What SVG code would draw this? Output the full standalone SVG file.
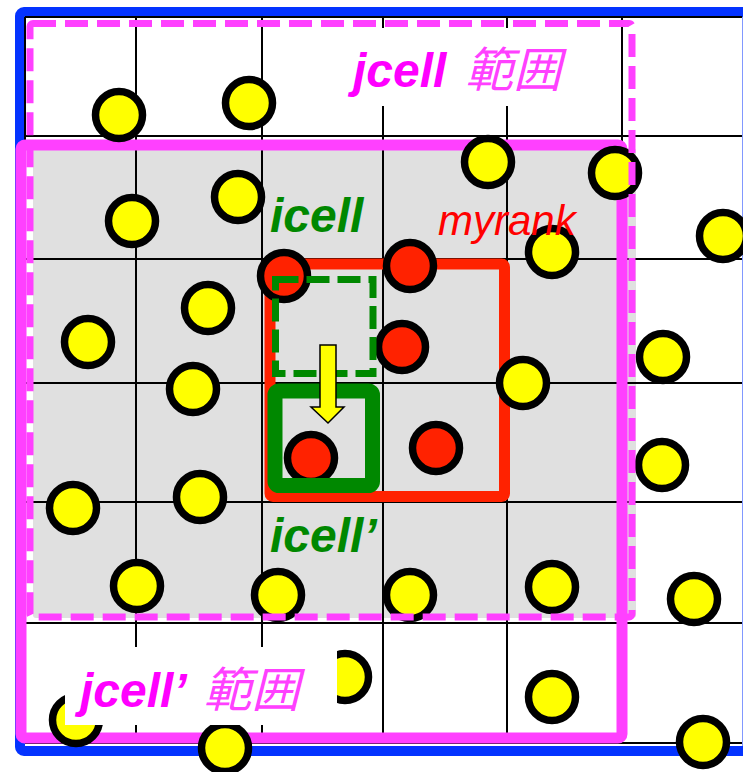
<svg xmlns="http://www.w3.org/2000/svg" width="743" height="772" viewBox="0 0 743 772">
<style>
.grid{stroke:#000;stroke-width:2;fill:none}
.cy{fill:#ffff00;stroke:#000;stroke-width:7.5}
.cr{fill:#ff2200;stroke:#000;stroke-width:7.5}
.lat{font-family:"Liberation Sans",Arial,sans-serif;font-weight:bold;font-style:italic}
.kj{font-family:"Noto Sans CJK JP","Noto Sans CJK SC",sans-serif;font-weight:normal;font-style:italic;fill:#ff40ff}
</style>
<rect width="743" height="772" fill="#fff"/>
<g id="domain">
<rect x="20" y="12" width="727.5" height="739" rx="4" fill="none" stroke="#0433ff" stroke-width="10"/>
</g>
<rect id="shade" x="33" y="148" width="603" height="470" rx="3" fill="#e0e0e0"/>
<g id="grid" class="grid">
<path d="M25,17H742M25,136H742M25,259H742M25,383H742M25,502H742M25,623H742M25,743H742"/>
<path d="M25,17V743M136,17V743M262,17V743M383,17V743M507,17V743M622,17V743"/>
</g>
<g id="jcellp-range"><rect x="21" y="145" width="601" height="593" rx="4" fill="none" stroke="#ff40ff" stroke-width="11"/></g>
<g id="myrank"><rect x="270" y="264" width="234.5" height="232.5" rx="3" fill="none" stroke="#ff2200" stroke-width="11"/></g>
<g id="particles-red">
<circle class="cr" cx="284" cy="276" r="23.5"/>
<circle class="cr" cx="410" cy="266" r="23.5"/>
<circle class="cr" cx="402" cy="347" r="23.5"/>
<circle class="cr" cx="436" cy="448" r="23.5"/>
<circle class="cr" cx="311" cy="458" r="23.5"/>
</g>
<g id="particles-yellow">
<circle class="cy" cx="119" cy="115" r="23.5"/>
<circle class="cy" cx="249" cy="103" r="23.5"/>
<circle class="cy" cx="488" cy="162" r="23.5"/>
<circle class="cy" cx="615" cy="173" r="23.5"/>
<circle class="cy" cx="132" cy="221" r="23.5"/>
<circle class="cy" cx="238" cy="197" r="23.5"/>
<circle class="cy" cx="552" cy="252" r="23.5"/>
<circle class="cy" cx="723" cy="236" r="23.5"/>
<circle class="cy" cx="208" cy="308" r="23.5"/>
<circle class="cy" cx="88" cy="342" r="23.5"/>
<circle class="cy" cx="193" cy="389" r="23.5"/>
<circle class="cy" cx="523" cy="383" r="23.5"/>
<circle class="cy" cx="663" cy="357" r="23.5"/>
<circle class="cy" cx="662" cy="465" r="23.5"/>
<circle class="cy" cx="73" cy="508" r="23.5"/>
<circle class="cy" cx="200" cy="497" r="23.5"/>
<circle class="cy" cx="137" cy="586" r="23.5"/>
<circle class="cy" cx="278" cy="595" r="23.5"/>
<circle class="cy" cx="410" cy="595" r="23.5"/>
<circle class="cy" cx="552" cy="587" r="23.5"/>
<circle class="cy" cx="694" cy="599" r="23.5"/>
<circle class="cy" cx="345" cy="677" r="23.5"/>
<circle class="cy" cx="552" cy="697" r="23.5"/>
<circle class="cy" cx="76" cy="720" r="23.5"/>
<circle class="cy" cx="225" cy="748" r="23.5"/>
<circle class="cy" cx="703" cy="742" r="23.5"/>
</g>
<g id="icell"><rect x="275.5" y="279.5" width="97.5" height="94" fill="none" stroke="#008800" stroke-width="7" stroke-dasharray="23 8"/></g>
<g id="icell-prime"><rect x="275" y="391" width="97.5" height="94.5" rx="4" fill="none" stroke="#008800" stroke-width="15"/></g>
<g id="connectors">
<polygon points="320,345 336,345 336,407 344,407 328,423 311,407 320,407" fill="#ffff00" stroke="#000" stroke-width="1.5"/>
</g>
<g id="jcell-range"><rect x="30" y="23.5" width="602" height="593.5" rx="3" fill="none" stroke="#ff40ff" stroke-width="7" stroke-dasharray="23 9"/></g>
<g id="label-jcell">
<rect x="340" y="28" width="260" height="78" fill="#fff"/>
<text x="353" y="87" font-size="48"><tspan class="lat" fill="#ff00ff">jcell</tspan><tspan class="kj" dx="8"> 範囲</tspan></text>
</g>
<g id="label-jcellp">
<rect x="65" y="647" width="272" height="78" fill="#fff"/>
<text x="80" y="707" font-size="48"><tspan class="lat" fill="#ff00ff">jcell’</tspan><tspan class="kj" dx="6"> 範囲</tspan></text>
</g>
<text class="lat" x="270" y="232" font-size="48" fill="#008800">icell</text>
<text class="lat" x="270" y="552" font-size="48" fill="#008800">icell’</text>
<text x="438" y="235" font-size="42" font-family="Liberation Sans,Arial,sans-serif" font-style="italic" fill="#ff0000">myrank</text>
</svg>
